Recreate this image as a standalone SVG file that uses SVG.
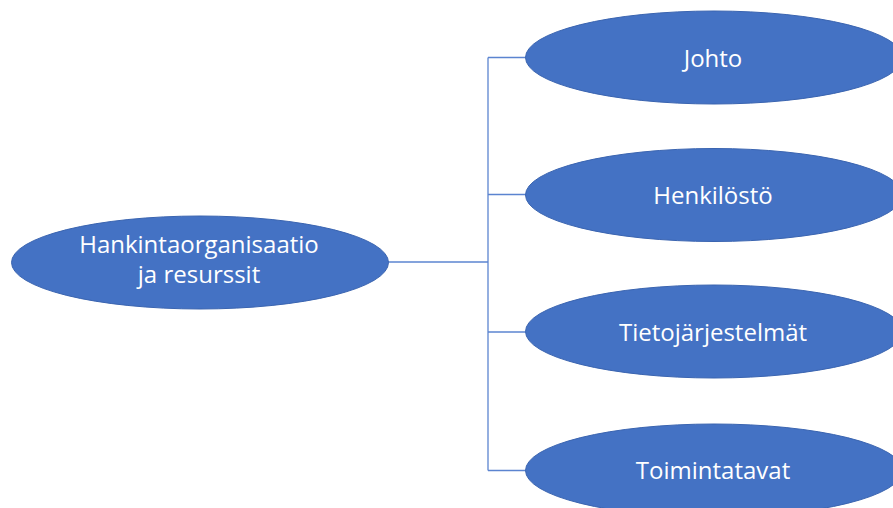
<svg xmlns="http://www.w3.org/2000/svg" width="893" height="508" viewBox="0 0 893 508">
  <style>
    .node ellipse { fill: #4472C4; stroke: #3A64B0; stroke-width: 1; }
    .node text { fill: #FFFFFF; font-family: "Open Sans", "Liberation Sans", sans-serif; font-size: 24px; text-anchor: middle; }
    .links path { fill: none; stroke: #5B84D0; stroke-width: 1.3; }
  </style>
  <rect width="893" height="508" fill="#FFFFFF"/>

  <!-- connectors: root to trunk, trunk to each child -->
  <g id="connectors" class="links">
    <path d="M388 262 H488"/>
    <path d="M488 57.5 V470.5"/>
    <path d="M488 57.5 H526"/>
    <path d="M488 194.5 H526"/>
    <path d="M488 332 H526"/>
    <path d="M488 470.5 H526"/>
  </g>

  <g id="root" class="node">
    <ellipse cx="200" cy="262.5" rx="188.5" ry="46.5"/>
    <text x="199" y="253">Hankintaorganisaatio</text>
    <text x="199" y="283">ja resurssit</text>
  </g>

  <g id="johto" class="node">
    <ellipse cx="714" cy="57.5" rx="188.5" ry="46.5"/>
    <text x="713" y="66.5">Johto</text>
  </g>

  <g id="henkilosto" class="node">
    <ellipse cx="714" cy="195" rx="188.5" ry="46.5"/>
    <text x="713" y="203.5">Henkilöstö</text>
  </g>

  <g id="tietojarjestelmat" class="node">
    <ellipse cx="714" cy="331.5" rx="188.5" ry="46.5"/>
    <text x="713" y="341">Tietojärjestelmät</text>
  </g>

  <g id="toimintatavat" class="node">
    <ellipse cx="714" cy="470.5" rx="188.5" ry="46.5"/>
    <text x="713" y="478.5">Toimintatavat</text>
  </g>
</svg>
